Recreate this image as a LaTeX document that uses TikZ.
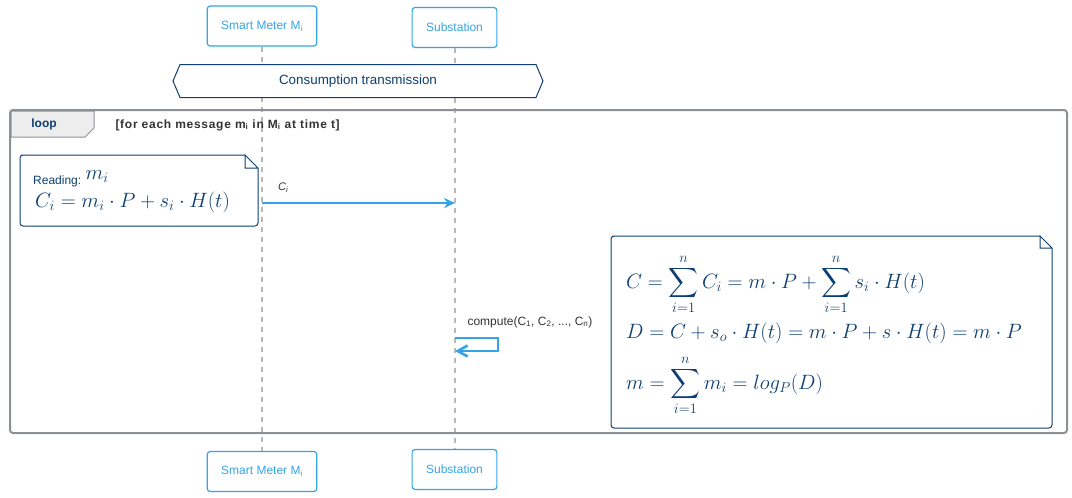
\documentclass[tikz,border=0pt]{standalone}
\usepackage{amsmath}
\usepackage{fontspec}
\setmainfont{Liberation Sans}
\usetikzlibrary{shapes.symbols, arrows.meta, positioning}
\definecolor{msgblue}{HTML}{33A5E6}
\definecolor{noteblue}{HTML}{0E3F72}
\definecolor{framegray}{HTML}{8C9196}
\definecolor{guardgray}{HTML}{333333}
\tikzstyle{actor} = [draw=msgblue, line width=1.2pt, rounded corners=3pt, fill=white,
  text=msgblue, font=\fontsize{12}{14}\selectfont, minimum height=40pt, inner xsep=14pt]
\tikzstyle{lifeline} = [draw=black!28, line width=2pt, dash pattern=on 5pt off 5pt]
\tikzstyle{msg} = [draw=msgblue, line width=2.6pt]
\tikzstyle{note} = [draw=noteblue, line width=1pt, fill=white]
\newcommand{\mathsize}{\fontsize{20.5}{24}\selectfont}

\begin{document}
\begin{tikzpicture}[x=1pt, y=-1pt]
  \useasboundingbox (0,0) rectangle (1072,498);
  % participants
  \node[actor] (smtop) at (262,26) {Smart Meter M\textsubscript{i}};
  \node[actor] (subtop) at (454.5,27.5) {Substation};
  \node[actor] (smbot) at (262,471.5) {Smart Meter M\textsubscript{i}};
  \node[actor] (subbot) at (454.5,469.5) {Substation};
  \draw[lifeline] (smtop) -- (smbot);
  \draw[lifeline] (subtop) -- (subbot);
  % divider
  \node[signal, signal to=west and east, signal pointer angle=134, draw=noteblue, fill=white,
    minimum width=370pt, minimum height=33pt, line width=1pt, text=noteblue,
    font=\fontsize{13.4}{15}\selectfont] (phase) at (358,81) {Consumption transmission};
  % loop frame
  \draw[framegray, line width=2pt, rounded corners=3pt] (10,110) rectangle (1067,433);
  \draw[framegray, line width=1pt, fill=black!7] (11,111) -- (94,111) -- (94,128) -- (85,137) -- (11,137) -- cycle;
  \node[text=noteblue, font=\bfseries\fontsize{12}{14}\selectfont] (loop) at (44,124) {loop};
  \node[anchor=west, text=guardgray, font=\bfseries\fontsize{12}{14}\selectfont\addfontfeature{LetterSpace=6}] (guard) at (112,125)
    {[for each message m\textsubscript{i} in M\textsubscript{i} at time t]};
  % note on smart meter
  \draw[note, rounded corners=3pt] (245,155) -- (24,155) -- (20,155) -- (20,226) -- (258,226) -- (258,168);
  \draw[note] (258,168) -- (245,155) -- (245,168) -- (258,168);
  \node[anchor=base west, text=noteblue, inner sep=0pt] (reading) at (33,184)
    {\fontsize{12}{14}\selectfont Reading: \raisebox{5pt}{\mathsize$m_i$}};
  \node[anchor=base west, text=noteblue, inner sep=0pt] (cieq) at (35,207)
    {\mathsize$C_i = m_i \cdot P + s_i \cdot H(t)$};
  % reading sent
  \coordinate (ci-from) at (262,203);
  \coordinate (ci-to) at (455,203);
  \draw[msg, -{Stealth[length=11pt, width=10pt]}] (ci-from) -- (ci-to)
    node[pos=0.11, above=6pt, text=guardgray, font=\itshape\fontsize{11}{13}\selectfont] (cilabel) {C\textsubscript{i}};
  % self call
  \coordinate (self-from) at (455,338);
  \coordinate (self-to) at (455,351);
  \draw[msg, -{Straight Barb[length=10pt, width=11pt]}] (self-from) -- ++(43,0) |- (self-to);
  \node[anchor=west, text=guardgray, font=\fontsize{12}{14}\selectfont] (compute) at (464,322)
    {compute(C\textsubscript{1}, C\textsubscript{2}, ..., C\textsubscript{n})};
  % note on substation
  \draw[note, rounded corners=3pt] (1040,236) -- (615,236) -- (611,236) -- (611,428) -- (1052,428) -- (1052,248);
  \draw[note] (1052,248) -- (1040,236) -- (1040,248) -- (1052,248);
  \node[anchor=base west, text=noteblue, inner sep=0pt] (eqc) at (626,288)
    {\mathsize$\displaystyle C = \sum_{i=1}^{n} C_i = m \cdot P + \sum_{i=1}^{n} s_i \cdot H(t)$};
  \node[anchor=base west, text=noteblue, inner sep=0pt] (eqd) at (626,338)
    {\mathsize$D = C + s_o \cdot H(t) = m \cdot P + s \cdot H(t) = m \cdot P$};
  \node[anchor=base west, text=noteblue, inner sep=0pt] (eqm) at (626,389)
    {\mathsize$\displaystyle m = \sum_{i=1}^{n} m_i = log_P(D)$};
\end{tikzpicture}
\end{document}
